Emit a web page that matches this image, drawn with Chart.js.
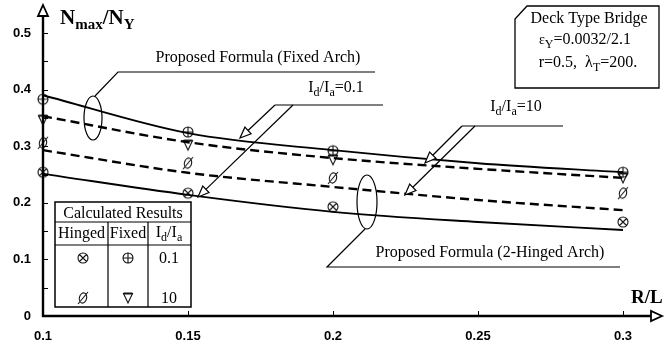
<!DOCTYPE html>
<html>
<head>
<meta charset="utf-8">
<script src="https://cdn.jsdelivr.net/npm/chart.js@4/dist/chart.umd.min.js"></script>
<style>
  html, body { margin: 0; padding: 0; background: #fff; }
  #wrap { width: 665px; height: 349px; position: relative; }
</style>
</head>
<body>
<div id="wrap"><canvas id="c" width="665" height="349"></canvas></div>
<script>
// R/L values along the proposed-formula curves
const ratioRL = [0.1, 0.15, 0.2, 0.25, 0.3];
// Proposed formula curves, Nmax/NY
const fixedFormulaId01  = [0.390, 0.323, 0.293, 0.270, 0.254];
const fixedFormulaId10  = [0.353, 0.307, 0.279, 0.260, 0.244];
const hingedFormulaId10 = [0.293, 0.253, 0.228, 0.205, 0.187];
const hingedFormulaId01 = [0.251, 0.214, 0.184, 0.166, 0.152];

// Calculated results
const calcRL         = [0.1, 0.15, 0.2, 0.3];
const calcFixedId01  = [0.383, 0.325, 0.292, 0.254];
const calcFixedId10  = [0.346, 0.302, 0.276, 0.244];
const calcHingedId10 = [0.306, 0.270, 0.244, 0.217];
const calcHingedId01 = [0.254, 0.217, 0.193, 0.166];

// Axis ticks
const xTickValues = [0.1, 0.15, 0.2, 0.25, 0.3];
const xTickLabels = ['0.1', '0.15', '0.2', '0.25', '0.3'];
const yTickValues = [0, 0.1, 0.2, 0.3, 0.4, 0.5];
const yTickLabels = ['0', '0.1', '0.2', '0.3', '0.4', '0.5'];
const yMinorTicks = [0.05, 0.1, 0.15, 0.2, 0.25, 0.3, 0.35, 0.4, 0.45, 0.5];

const SERIF = '"Liberation Serif", "Times New Roman", serif';
const SANS = '"Liberation Sans", Arial, sans-serif';

const pairs = (xs, ys) => xs.map((x, i) => ({ x, y: ys[i] }));

// ---- marker glyphs ----
function drawGlyph(ctx, kind, cx, cy) {
  ctx.save();
  ctx.strokeStyle = '#111';
  ctx.lineWidth = 1.1;
  ctx.beginPath();
  if (kind === 'oplus' || kind === 'otimes') {
    ctx.arc(cx, cy, 5, 0, Math.PI * 2);
    if (kind === 'oplus') {
      ctx.moveTo(cx - 5, cy); ctx.lineTo(cx + 5, cy);
      ctx.moveTo(cx, cy - 5); ctx.lineTo(cx, cy + 5);
    } else {
      const d = 3.5;
      ctx.moveTo(cx - d, cy - d); ctx.lineTo(cx + d, cy + d);
      ctx.moveTo(cx + d, cy - d); ctx.lineTo(cx - d, cy + d);
    }
    ctx.stroke();
  } else if (kind === 'empty') {
    ctx.ellipse(cx, cy, 3.6, 5.2, 0.25, 0, Math.PI * 2);
    ctx.moveTo(cx - 5, cy + 6); ctx.lineTo(cx + 5, cy - 6);
    ctx.stroke();
  } else if (kind === 'nabla') {
    ctx.moveTo(cx - 4.5, cy - 4.5);
    ctx.lineTo(cx + 4.5, cy - 4.5);
    ctx.lineTo(cx, cy + 5);
    ctx.closePath();
    ctx.stroke();
    ctx.lineWidth = 2;
    ctx.beginPath();
    ctx.moveTo(cx - 4.5, cy - 4.5); ctx.lineTo(cx + 4.5, cy - 4.5);
    ctx.stroke();
  }
  ctx.restore();
}
function makeGlyph(kind) {
  const cv = document.createElement('canvas');
  cv.width = 16; cv.height = 16;
  drawGlyph(cv.getContext('2d'), kind, 8, 8);
  return cv;
}
const glyphs = {
  oplus: makeGlyph('oplus'),
  otimes: makeGlyph('otimes'),
  empty: makeGlyph('empty'),
  nabla: makeGlyph('nabla')
};

// ---- rich text with subscripts ----
function richWidth(ctx, parts) {
  let w = 0;
  for (const p of parts) {
    ctx.font = (p.bold ? 'bold ' : '') + p.size + 'px ' + SERIF;
    w += ctx.measureText(p.t).width;
  }
  return w;
}
function drawRich(ctx, parts, x, y, align) {
  const w = richWidth(ctx, parts);
  let cx = align === 'left' ? x : x - w / 2;
  ctx.textBaseline = 'alphabetic';
  ctx.textAlign = 'left';
  for (const p of parts) {
    ctx.font = (p.bold ? 'bold ' : '') + p.size + 'px ' + SERIF;
    ctx.fillText(p.t, cx, y + (p.dy || 0));
    cx += ctx.measureText(p.t).width;
  }
}
function idIa(size, sub, tail) {
  return [
    { t: 'I', size }, { t: 'd', size: sub, dy: 4 },
    { t: '/I', size }, { t: 'a', size: sub, dy: 4 },
    ...(tail ? [{ t: tail, size }] : [])
  ];
}

function arrowTo(ctx, x1, y1, x2, y2) {
  const ang = Math.atan2(y2 - y1, x2 - x1);
  const len = 11, hw = 4.5;
  const bx = x2 - Math.cos(ang) * len, by = y2 - Math.sin(ang) * len;
  ctx.beginPath();
  ctx.moveTo(x1, y1); ctx.lineTo(bx, by);
  ctx.stroke();
  ctx.beginPath();
  ctx.moveTo(x2, y2);
  ctx.lineTo(bx + Math.sin(ang) * hw, by - Math.cos(ang) * hw);
  ctx.lineTo(bx - Math.sin(ang) * hw, by + Math.cos(ang) * hw);
  ctx.closePath();
  ctx.fillStyle = '#fff';
  ctx.fill();
  ctx.stroke();
}

// ---- axes with arrows, inward ticks ----
const axesPlugin = {
  id: 'axesArrows',
  afterDatasetsDraw(chart) {
    const ctx = chart.ctx;
    const xs = chart.scales.x, ys = chart.scales.y;
    const x0 = xs.getPixelForValue(0.1), y0 = ys.getPixelForValue(0);
    ctx.save();
    ctx.strokeStyle = '#000';
    ctx.lineWidth = 2.4;
    ctx.beginPath();
    ctx.moveTo(x0, y0 + 1); ctx.lineTo(x0, 16);
    ctx.moveTo(x0 - 1, y0); ctx.lineTo(652, y0);
    ctx.stroke();
    ctx.lineWidth = 1.8;
    ctx.fillStyle = '#fff';
    ctx.beginPath();
    ctx.moveTo(x0, 5); ctx.lineTo(x0 + 5, 16); ctx.lineTo(x0 - 5, 16); ctx.closePath();
    ctx.fill(); ctx.stroke();
    ctx.beginPath();
    ctx.moveTo(662, y0); ctx.lineTo(651, y0 - 5); ctx.lineTo(651, y0 + 5); ctx.closePath();
    ctx.fill(); ctx.stroke();
    ctx.lineWidth = 1;
    ctx.beginPath();
    for (const v of yMinorTicks) {
      const py = Math.round(ys.getPixelForValue(v)) + 0.5;
      ctx.moveTo(x0, py); ctx.lineTo(x0 + 5, py);
    }
    for (const v of xTickValues.slice(1)) {
      const px = Math.round(xs.getPixelForValue(v)) + 0.5;
      ctx.moveTo(px, y0); ctx.lineTo(px, y0 - 5);
    }
    ctx.stroke();
    ctx.restore();
  }
};

// ---- titles, callouts, info box and result table ----
const notesPlugin = {
  id: 'notes',
  afterDraw(chart) {
    const ctx = chart.ctx;
    ctx.save();
    ctx.fillStyle = '#000';
    ctx.strokeStyle = '#000';

    // axis titles
    drawRich(ctx, [
      { t: 'N', size: 21, bold: true }, { t: 'max', size: 15, bold: true, dy: 5 },
      { t: '/N', size: 21, bold: true }, { t: 'Y', size: 15, bold: true, dy: 5 }
    ], 60, 24, 'left');
    drawRich(ctx, [{ t: 'R/L', size: 19, bold: true }], 631, 303, 'left');

    ctx.lineWidth = 1.2;
    // fixed arch formula callout
    ctx.beginPath();
    ctx.ellipse(93, 118, 9, 22, 0, 0, Math.PI * 2);
    ctx.moveTo(95, 96); ctx.lineTo(118, 72); ctx.lineTo(375, 72);
    ctx.stroke();
    ctx.fillStyle = '#000';
    drawRich(ctx, [{ t: 'Proposed Formula (Fixed Arch)', size: 16 }], 258, 62, 'center');

    // 2-hinged arch formula callout
    ctx.beginPath();
    ctx.ellipse(367, 202, 10, 27, 0, 0, Math.PI * 2);
    ctx.moveTo(365, 229); ctx.lineTo(327, 267); ctx.lineTo(620, 267);
    ctx.stroke();
    drawRich(ctx, [{ t: 'Proposed Formula (2-Hinged Arch)', size: 16 }], 490, 257, 'center');

    // Id/Ia = 0.1 pointers
    ctx.beginPath();
    ctx.moveTo(275, 105); ctx.lineTo(383, 105);
    ctx.stroke();
    arrowTo(ctx, 275, 105, 240, 138);
    arrowTo(ctx, 293, 105, 198, 197);
    ctx.fillStyle = '#000';
    drawRich(ctx, idIa(16, 12, '=0.1'), 336, 92, 'center');

    // Id/Ia = 10 pointers
    ctx.beginPath();
    ctx.moveTo(462, 126); ctx.lineTo(563, 126);
    ctx.stroke();
    arrowTo(ctx, 462, 126, 425, 163);
    arrowTo(ctx, 475, 126, 405, 195);
    ctx.fillStyle = '#000';
    drawRich(ctx, idIa(16, 12, '=10'), 516, 111, 'center');

    // info box with clipped corner
    ctx.lineWidth = 1.3;
    ctx.beginPath();
    ctx.moveTo(527, 6); ctx.lineTo(659, 6); ctx.lineTo(659, 88);
    ctx.lineTo(515, 88); ctx.lineTo(515, 19); ctx.closePath();
    ctx.stroke();
    drawRich(ctx, [{ t: 'Deck Type Bridge', size: 16 }], 589, 23, 'center');
    drawRich(ctx, [{ t: 'ε', size: 14 }, { t: 'Y', size: 12, dy: 4 }, { t: '=0.0032/2.1', size: 16 }], 585, 44, 'center');
    drawRich(ctx, [{ t: 'r=0.5,  λ', size: 16 }, { t: 'T', size: 12, dy: 4 }, { t: '=200.', size: 16 }], 588, 67, 'center');

    // calculated results table
    ctx.fillStyle = '#fff';
    ctx.fillRect(55, 202, 136, 105);
    ctx.fillStyle = '#000';
    ctx.lineWidth = 1.5;
    ctx.strokeRect(55, 202, 136, 105);
    ctx.lineWidth = 1.2;
    ctx.beginPath();
    ctx.moveTo(55, 222); ctx.lineTo(191, 222);
    ctx.moveTo(55, 245); ctx.lineTo(191, 245);
    ctx.moveTo(108, 222); ctx.lineTo(108, 307);
    ctx.moveTo(148, 222); ctx.lineTo(148, 307);
    ctx.stroke();
    drawRich(ctx, [{ t: 'Calculated Results', size: 16 }], 123, 218, 'center');
    drawRich(ctx, [{ t: 'Hinged', size: 16 }], 81.5, 238, 'center');
    drawRich(ctx, [{ t: 'Fixed', size: 16 }], 128, 238, 'center');
    drawRich(ctx, idIa(16, 12), 169, 237, 'center');
    ctx.drawImage(glyphs.otimes, 83 - 8, 258 - 8);
    ctx.drawImage(glyphs.oplus, 128 - 8, 258 - 8);
    ctx.drawImage(glyphs.empty, 83 - 8, 298 - 8);
    ctx.drawImage(glyphs.nabla, 128 - 8, 298 - 8);
    drawRich(ctx, [{ t: '0.1', size: 16 }], 169, 263, 'center');
    drawRich(ctx, [{ t: '10', size: 16 }], 169, 303, 'center');
    ctx.restore();
  }
};

const curve = (data, dashed) => ({
  data,
  borderColor: '#000',
  borderWidth: dashed ? 2.4 : 1.9,
  borderDash: dashed ? [9, 5] : [],
  pointRadius: 0,
  cubicInterpolationMode: 'monotone',
  fill: false,
  clip: false
});
const points = (data, glyph) => ({
  data,
  showLine: false,
  pointStyle: glyph,
  pointRadius: 6,
  clip: false
});

new Chart(document.getElementById('c'), {
  type: 'line',
  data: {
    datasets: [
      curve(pairs(ratioRL, fixedFormulaId01), false),
      curve(pairs(ratioRL, fixedFormulaId10), true),
      curve(pairs(ratioRL, hingedFormulaId10), true),
      curve(pairs(ratioRL, hingedFormulaId01), false),
      points(pairs(calcRL, calcFixedId01), glyphs.oplus),
      points(pairs(calcRL, calcFixedId10), glyphs.nabla),
      points(pairs(calcRL, calcHingedId10), glyphs.empty),
      points(pairs(calcRL, calcHingedId01), glyphs.otimes)
    ]
  },
  options: {
    responsive: false,
    devicePixelRatio: 1,
    animation: false,
    layout: { padding: { left: 0, top: 33, right: 42, bottom: 0 } },
    plugins: { legend: { display: false }, tooltip: { enabled: false } },
    scales: {
      x: {
        type: 'linear',
        min: 0.1, max: 0.3,
        afterBuildTicks(s) { s.ticks = xTickValues.map(v => ({ value: v })); },
        afterFit(s) { s.height = 33; },
        grid: { display: false, drawTicks: false },
        border: { display: false },
        ticks: {
          padding: 13,
          color: '#000',
          font: { family: SANS, size: 13, weight: 'bold' },
          callback: (v, i) => xTickLabels[i]
        }
      },
      y: {
        type: 'linear',
        min: 0, max: 0.5,
        afterBuildTicks(s) { s.ticks = yTickValues.map(v => ({ value: v })); },
        afterFit(s) { s.width = 43; },
        grid: { display: false, drawTicks: false },
        border: { display: false },
        ticks: {
          padding: 12,
          color: '#000',
          font: { family: SANS, size: 13, weight: 'bold' },
          callback: (v, i) => yTickLabels[i]
        }
      }
    }
  },
  plugins: [axesPlugin, notesPlugin]
});
</script>
</body>
</html>
